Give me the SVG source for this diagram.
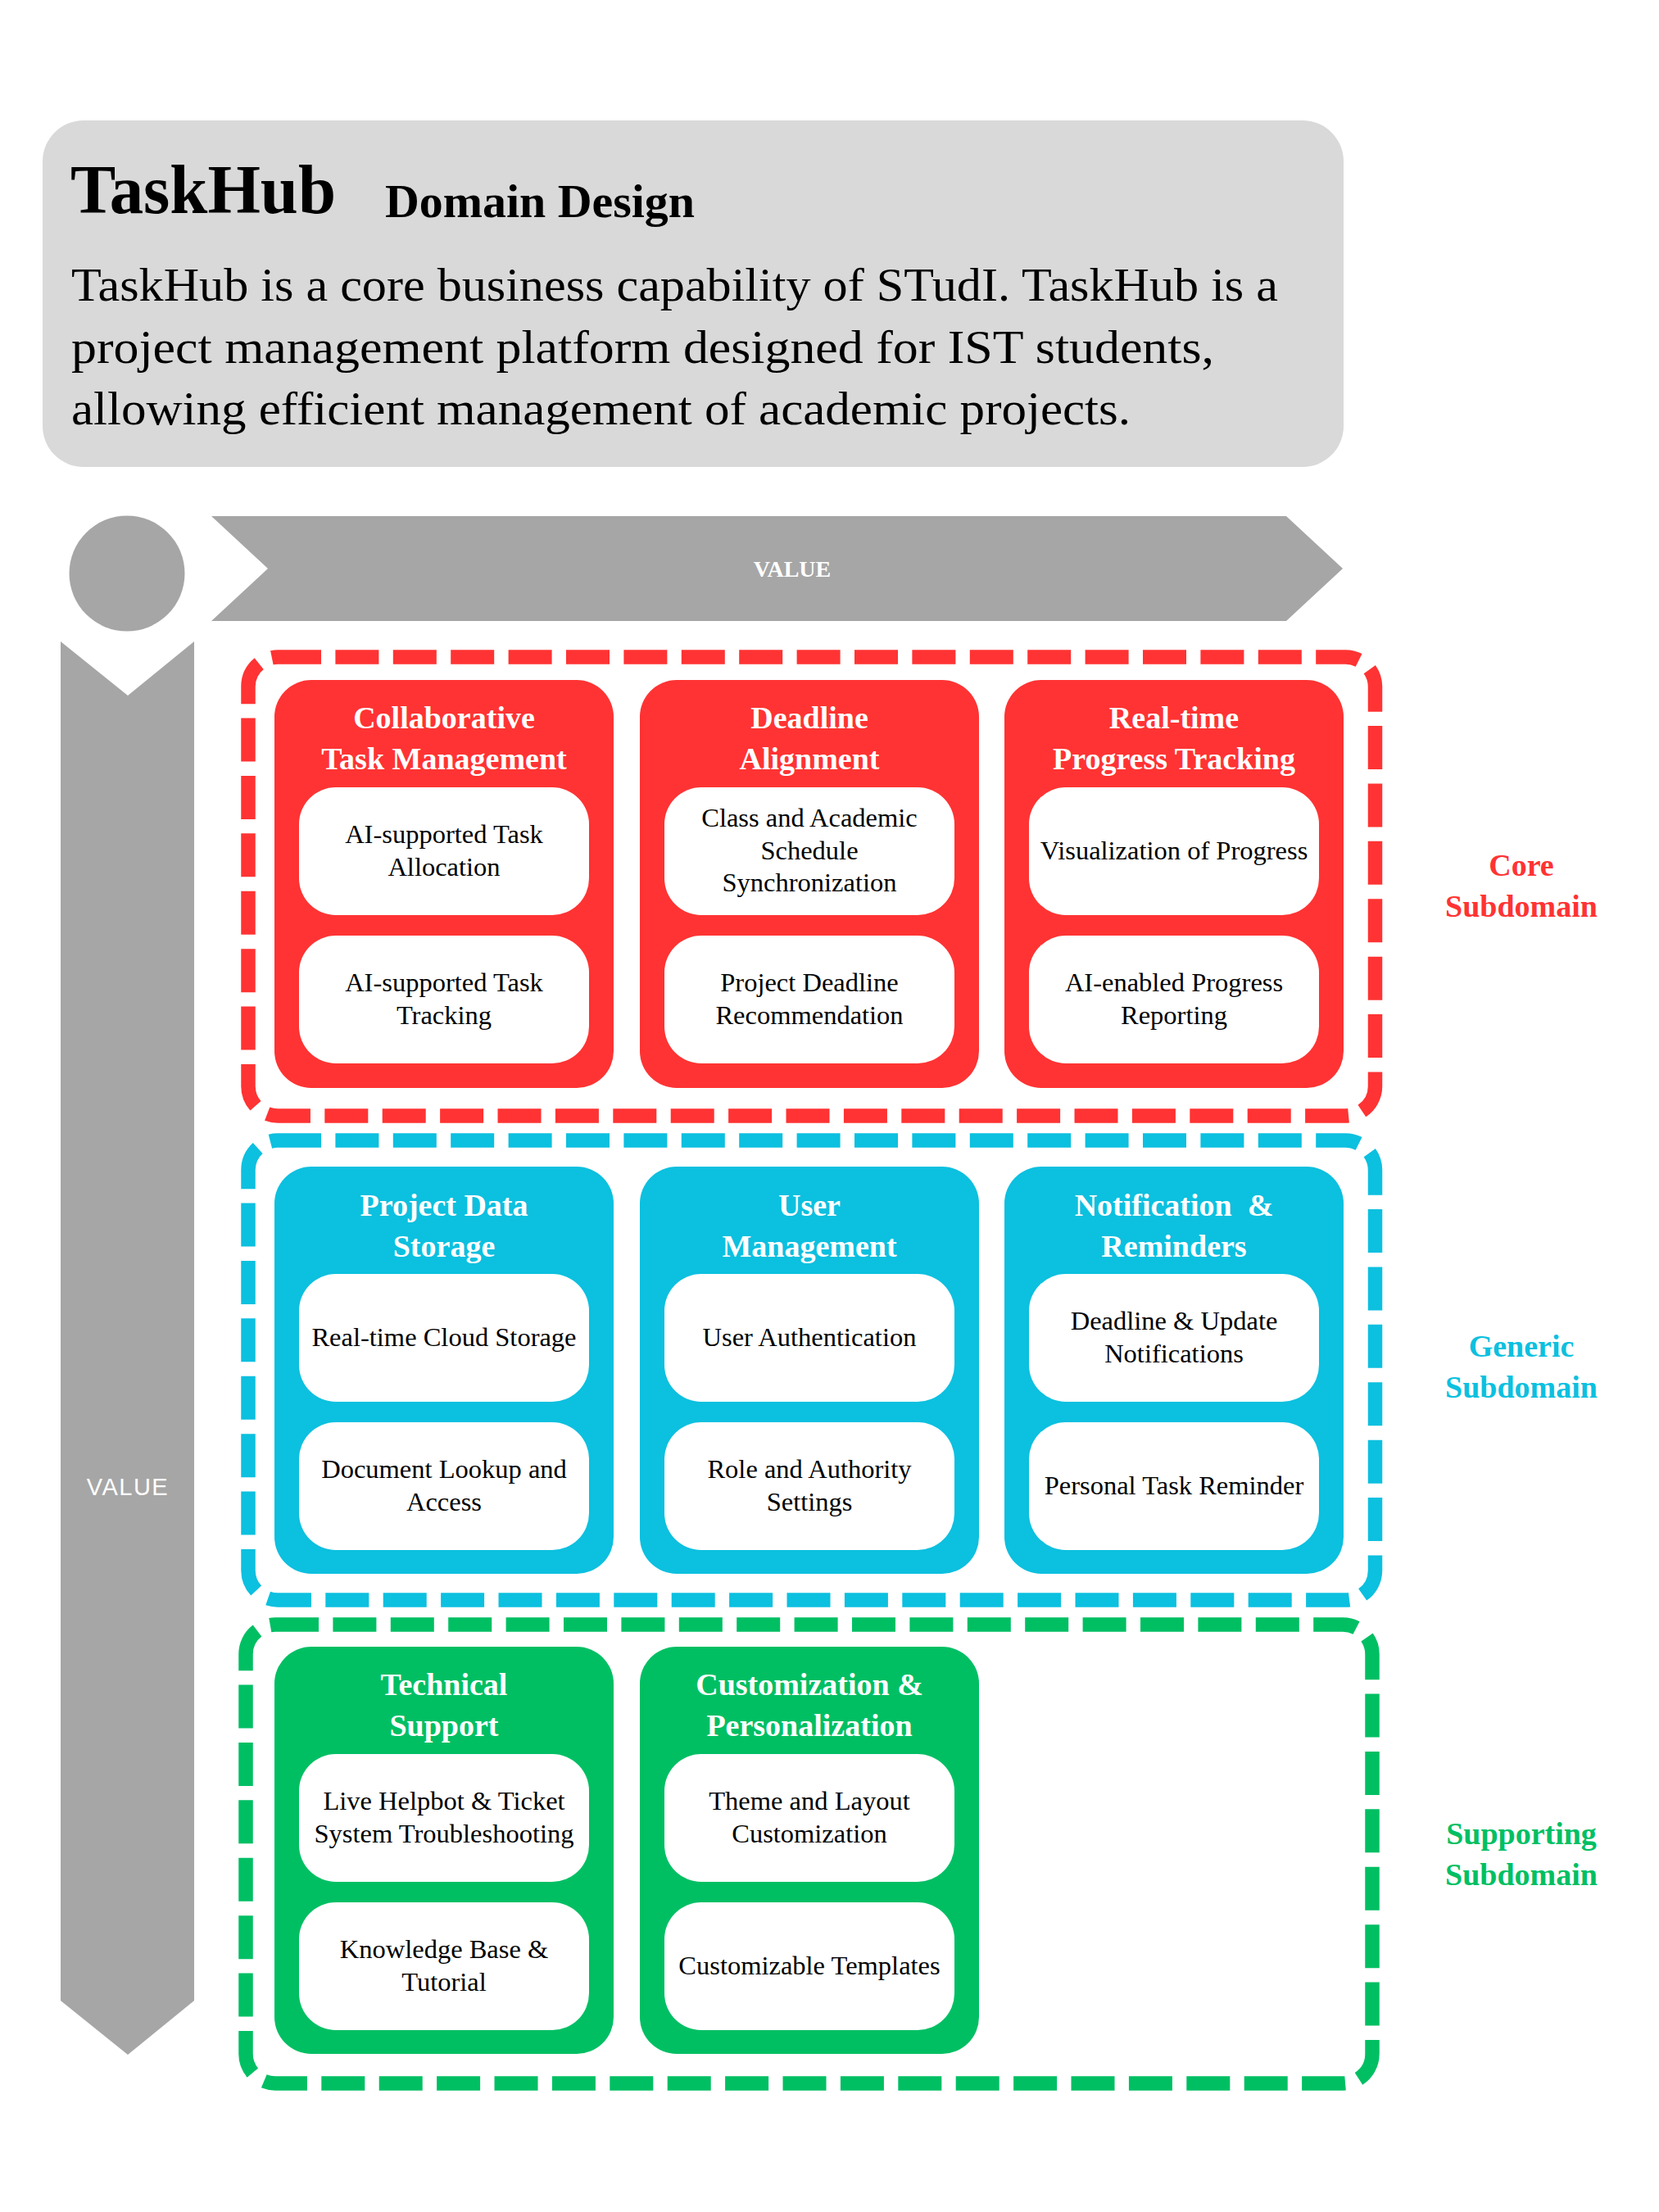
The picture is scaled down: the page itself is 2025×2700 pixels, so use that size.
<svg xmlns="http://www.w3.org/2000/svg" width="2025" height="2700" viewBox="0 0 2025 2700">
<style>
.serif{font-family:"Liberation Serif","DejaVu Serif",serif;}
.ttl{font-family:"Liberation Serif","DejaVu Serif",serif;font-weight:bold;font-size:38px;fill:#ffffff;text-anchor:middle;}
.card{fill:#ffffff;}
.ct{font-family:"Liberation Serif","DejaVu Serif",serif;font-size:32.5px;fill:#000000;text-anchor:middle;}
.side{font-family:"Liberation Serif","DejaVu Serif",serif;font-weight:bold;font-size:38px;text-anchor:middle;}
.red{fill:#FF3333;}
.blue{fill:#0CC0DF;}
.green{fill:#00BF63;}
.dash{fill:none;stroke-width:17.5;stroke-dasharray:53 17.4;}
</style>
<rect width="2025" height="2700" fill="#ffffff"/>

<g id="header">
<rect x="52" y="147" width="1588" height="423" rx="50" fill="#D9D9D9"/>
<text x="86" y="260" class="serif" font-weight="bold" font-size="84" textLength="324" lengthAdjust="spacingAndGlyphs" fill="#000">TaskHub</text>
<text x="470" y="265" class="serif" font-weight="bold" font-size="57" textLength="378" lengthAdjust="spacingAndGlyphs" fill="#000">Domain Design</text>
<text x="87" y="367" class="serif" font-size="56" textLength="1473" lengthAdjust="spacingAndGlyphs" fill="#000">TaskHub is a core business capability of STudI. TaskHub is a</text>
<text x="87" y="443" class="serif" font-size="56" textLength="1395" lengthAdjust="spacingAndGlyphs" fill="#000">project management platform designed for IST students,</text>
<text x="87" y="518" class="serif" font-size="56" textLength="1293" lengthAdjust="spacingAndGlyphs" fill="#000">allowing efficient management of academic projects.</text>
</g>

<g id="value-axes">
<circle cx="155" cy="700" r="70.5" fill="#A6A6A6"/>
<polygon points="258,630 1570,630 1639,694 1570,758 258,758 327,694" fill="#A6A6A6"/>
<text x="967" y="704" class="serif" font-weight="bold" font-size="28" fill="#ffffff" text-anchor="middle">VALUE</text>
<polygon points="74,783 156,849 237,783 237,2442 156,2508 74,2442" fill="#A6A6A6"/>
<text x="156" y="1825" font-family="Liberation Sans, Arial, sans-serif" font-size="29" letter-spacing="1.5" fill="#ffffff" text-anchor="middle">VALUE</text>
</g>

<g id="connectors"></g>

<g id="core-subdomain">
<rect x="303" y="802" width="1375.5" height="560" rx="36" class="dash" stroke="#FF3333"/>
<text class="side red" x="1857" y="1069">Core</text>
<text class="side red" x="1857" y="1119">Subdomain</text>
</g>
<g id="generic-subdomain">
<rect x="303" y="1392" width="1375.5" height="561" rx="36" class="dash" stroke="#0CC0DF"/>
<text class="side blue" x="1857" y="1656">Generic</text>
<text class="side blue" x="1857" y="1706">Subdomain</text>
</g>
<g id="supporting-subdomain">
<rect x="300" y="1983" width="1375" height="560" rx="36" class="dash" stroke="#00BF63"/>
<text class="side green" x="1857" y="2251">Supporting</text>
<text class="side green" x="1857" y="2301">Subdomain</text>
</g>

<!-- Core row -->
<g id="collaborative-task-management">
<rect x="335" y="830" width="414" height="498" rx="45" class="red"/>
<text class="ttl" x="542" y="889">Collaborative</text>
<text class="ttl" x="542" y="939">Task Management</text>
<rect x="365" y="961" width="354" height="156" rx="45" class="card"/>
<text class="ct" x="542" y="1029">AI-supported Task</text>
<text class="ct" x="542" y="1068.5">Allocation</text>
<rect x="365" y="1142" width="354" height="156" rx="45" class="card"/>
<text class="ct" x="542" y="1210">AI-supported Task</text>
<text class="ct" x="542" y="1249.5">Tracking</text>
</g>
<g id="deadline-alignment">
<rect x="781" y="830" width="414" height="498" rx="45" class="red"/>
<text class="ttl" x="988" y="889">Deadline</text>
<text class="ttl" x="988" y="939">Alignment</text>
<rect x="811" y="961" width="354" height="156" rx="45" class="card"/>
<text class="ct" x="988" y="1009">Class and Academic</text>
<text class="ct" x="988" y="1048.5">Schedule</text>
<text class="ct" x="988" y="1088">Synchronization</text>
<rect x="811" y="1142" width="354" height="156" rx="45" class="card"/>
<text class="ct" x="988" y="1210">Project Deadline</text>
<text class="ct" x="988" y="1249.5">Recommendation</text>
</g>
<g id="real-time-progress-tracking">
<rect x="1226" y="830" width="414" height="498" rx="45" class="red"/>
<text class="ttl" x="1433" y="889">Real-time</text>
<text class="ttl" x="1433" y="939">Progress Tracking</text>
<rect x="1256" y="961" width="354" height="156" rx="45" class="card"/>
<text class="ct" x="1433" y="1048.5">Visualization of Progress</text>
<rect x="1256" y="1142" width="354" height="156" rx="45" class="card"/>
<text class="ct" x="1433" y="1210">AI-enabled Progress</text>
<text class="ct" x="1433" y="1249.5">Reporting</text>
</g>

<!-- Generic row -->
<g id="project-data-storage">
<rect x="335" y="1424" width="414" height="497" rx="45" class="blue"/>
<text class="ttl" x="542" y="1484">Project Data</text>
<text class="ttl" x="542" y="1534">Storage</text>
<rect x="365" y="1555" width="354" height="156" rx="45" class="card"/>
<text class="ct" x="542" y="1642.5">Real-time Cloud Storage</text>
<rect x="365" y="1736" width="354" height="156" rx="45" class="card"/>
<text class="ct" x="542" y="1804">Document Lookup and</text>
<text class="ct" x="542" y="1843.5">Access</text>
</g>
<g id="user-management">
<rect x="781" y="1424" width="414" height="497" rx="45" class="blue"/>
<text class="ttl" x="988" y="1484">User</text>
<text class="ttl" x="988" y="1534">Management</text>
<rect x="811" y="1555" width="354" height="156" rx="45" class="card"/>
<text class="ct" x="988" y="1642.5">User Authentication</text>
<rect x="811" y="1736" width="354" height="156" rx="45" class="card"/>
<text class="ct" x="988" y="1804">Role and Authority</text>
<text class="ct" x="988" y="1843.5">Settings</text>
</g>
<g id="notification-reminders">
<rect x="1226" y="1424" width="414" height="497" rx="45" class="blue"/>
<text class="ttl" x="1433" y="1484">Notification&#160; &amp;</text>
<text class="ttl" x="1433" y="1534">Reminders</text>
<rect x="1256" y="1555" width="354" height="156" rx="45" class="card"/>
<text class="ct" x="1433" y="1623">Deadline &amp; Update</text>
<text class="ct" x="1433" y="1662.5">Notifications</text>
<rect x="1256" y="1736" width="354" height="156" rx="45" class="card"/>
<text class="ct" x="1433" y="1823.5">Personal Task Reminder</text>
</g>

<!-- Supporting row -->
<g id="technical-support">
<rect x="335" y="2010" width="414" height="497" rx="45" class="green"/>
<text class="ttl" x="542" y="2069">Technical</text>
<text class="ttl" x="542" y="2119">Support</text>
<rect x="365" y="2141" width="354" height="156" rx="45" class="card"/>
<text class="ct" x="542" y="2209">Live Helpbot &amp; Ticket</text>
<text class="ct" x="542" y="2248.5">System Troubleshooting</text>
<rect x="365" y="2322" width="354" height="156" rx="45" class="card"/>
<text class="ct" x="542" y="2390">Knowledge Base &amp;</text>
<text class="ct" x="542" y="2429.5">Tutorial</text>
</g>
<g id="customization-personalization">
<rect x="781" y="2010" width="414" height="497" rx="45" class="green"/>
<text class="ttl" x="988" y="2069">Customization &amp;</text>
<text class="ttl" x="988" y="2119">Personalization</text>
<rect x="811" y="2141" width="354" height="156" rx="45" class="card"/>
<text class="ct" x="988" y="2209">Theme and Layout</text>
<text class="ct" x="988" y="2248.5">Customization</text>
<rect x="811" y="2322" width="354" height="156" rx="45" class="card"/>
<text class="ct" x="988" y="2409.5">Customizable Templates</text>
</g>
</svg>
